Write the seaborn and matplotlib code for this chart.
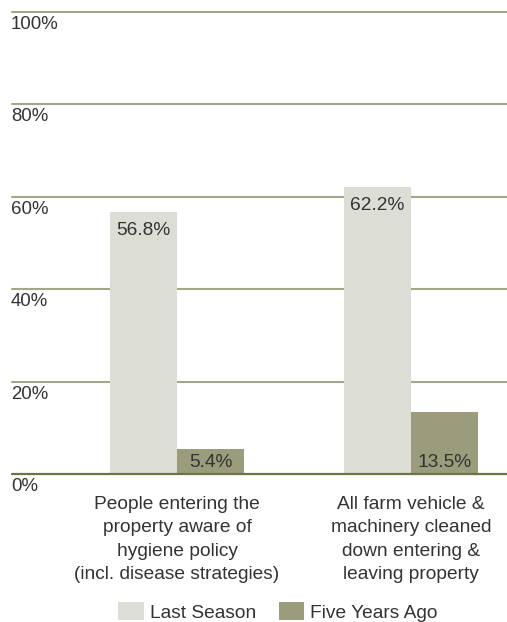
import matplotlib
matplotlib.use("Agg")
import matplotlib.pyplot as plt
import matplotlib.transforms as mtransforms
import seaborn as sns
import pandas as pd

# Data
categories = [
    "People entering the\nproperty aware of\nhygiene policy\n(incl. disease strategies)",
    "All farm vehicle &\nmachinery cleaned\ndown entering &\nleaving property",
]
series_names = ["Last Season", "Five Years Ago"]
last_season = [56.8, 62.2]
five_years_ago = [5.4, 13.5]
y_ticks = [0, 20, 40, 60, 80, 100]
y_tick_labels = ["0%", "20%", "40%", "60%", "80%", "100%"]

df = pd.DataFrame({
    "category": categories * 2,
    "series": [series_names[0]] * 2 + [series_names[1]] * 2,
    "value": last_season + five_years_ago,
})

sns.set_theme(style="white")
plt.rcParams["font.family"] = ["Liberation Sans", "DejaVu Sans"]
TEXT = "#333333"
GRID = "#a4a68b"
BASE = "#6f7247"
colors = ["#dcddd5", "#9a9c7b"]
FS = 13.8

W, H = 507, 622
fig = plt.figure(figsize=(W / 100, H / 100), dpi=100)
ax = fig.add_axes([12 / W, 1 - 474 / H, 1 - 12 / W, (474 - 12) / H])

sns.barplot(data=df, x="category", y="value", hue="series",
            palette=colors, width=0.573, gap=0, dodge=True,
            saturation=1, ax=ax, zorder=3, edgecolor="none", linewidth=0)

ax.set_xlim(-0.705, 1.41)
ax.set_ylim(0, 100)
for s in ax.spines.values():
    s.set_visible(False)

# Gridlines with labels sitting just below each line
trans = mtransforms.blended_transform_factory(ax.transAxes, ax.transData)
for v, lab in zip(y_ticks, y_tick_labels):
    if v == 0:
        ax.axhline(v, color=BASE, lw=1.6, zorder=5, clip_on=False)
    else:
        ax.axhline(v, color=GRID, lw=1.5, zorder=1, clip_on=False)
    ax.annotate(lab, xy=(0, v), xycoords=trans, xytext=(-1, -4),
                textcoords="offset pixels", ha="left", va="top",
                fontsize=13.4, color=TEXT, annotation_clip=False)
ax.set_yticks([])
ax.set_ylabel("")
ax.set_xlabel("")

ax.set_xticks([0, 1])
ax.set_xticklabels(categories, fontsize=FS, color=TEXT, linespacing=1.5)
ax.tick_params(axis="x", length=0, pad=15.5)

# Value labels: inside top for the light bars, inside base for the dark bars
for ci, cont in enumerate(ax.containers):
    vals = last_season if ci == 0 else five_years_ago
    for patch, v in zip(cont.patches, vals):
        cx = patch.get_x() + patch.get_width() / 2
        if ci == 0:
            ax.annotate(f"{v}%", xy=(cx, v), xytext=(0, -10),
                        textcoords="offset pixels", ha="center", va="top",
                        fontsize=FS, color=TEXT, zorder=6)
        else:
            ax.annotate(f"{v}%", xy=(cx, 0), xytext=(0, 3),
                        textcoords="offset pixels", ha="center", va="bottom",
                        fontsize=FS, color=TEXT, zorder=6)

handles, labels = ax.get_legend_handles_labels()
ax.legend_.remove()
fig.legend(handles, labels, loc="center", bbox_to_anchor=(278 / W, 10 / H),
           ncol=2, frameon=False, fontsize=FS, handlelength=1.33,
           handleheight=1.0, handletextpad=0.3, columnspacing=1.2,
           borderpad=0, labelcolor=TEXT)

fig.savefig("out.png", dpi=100)
